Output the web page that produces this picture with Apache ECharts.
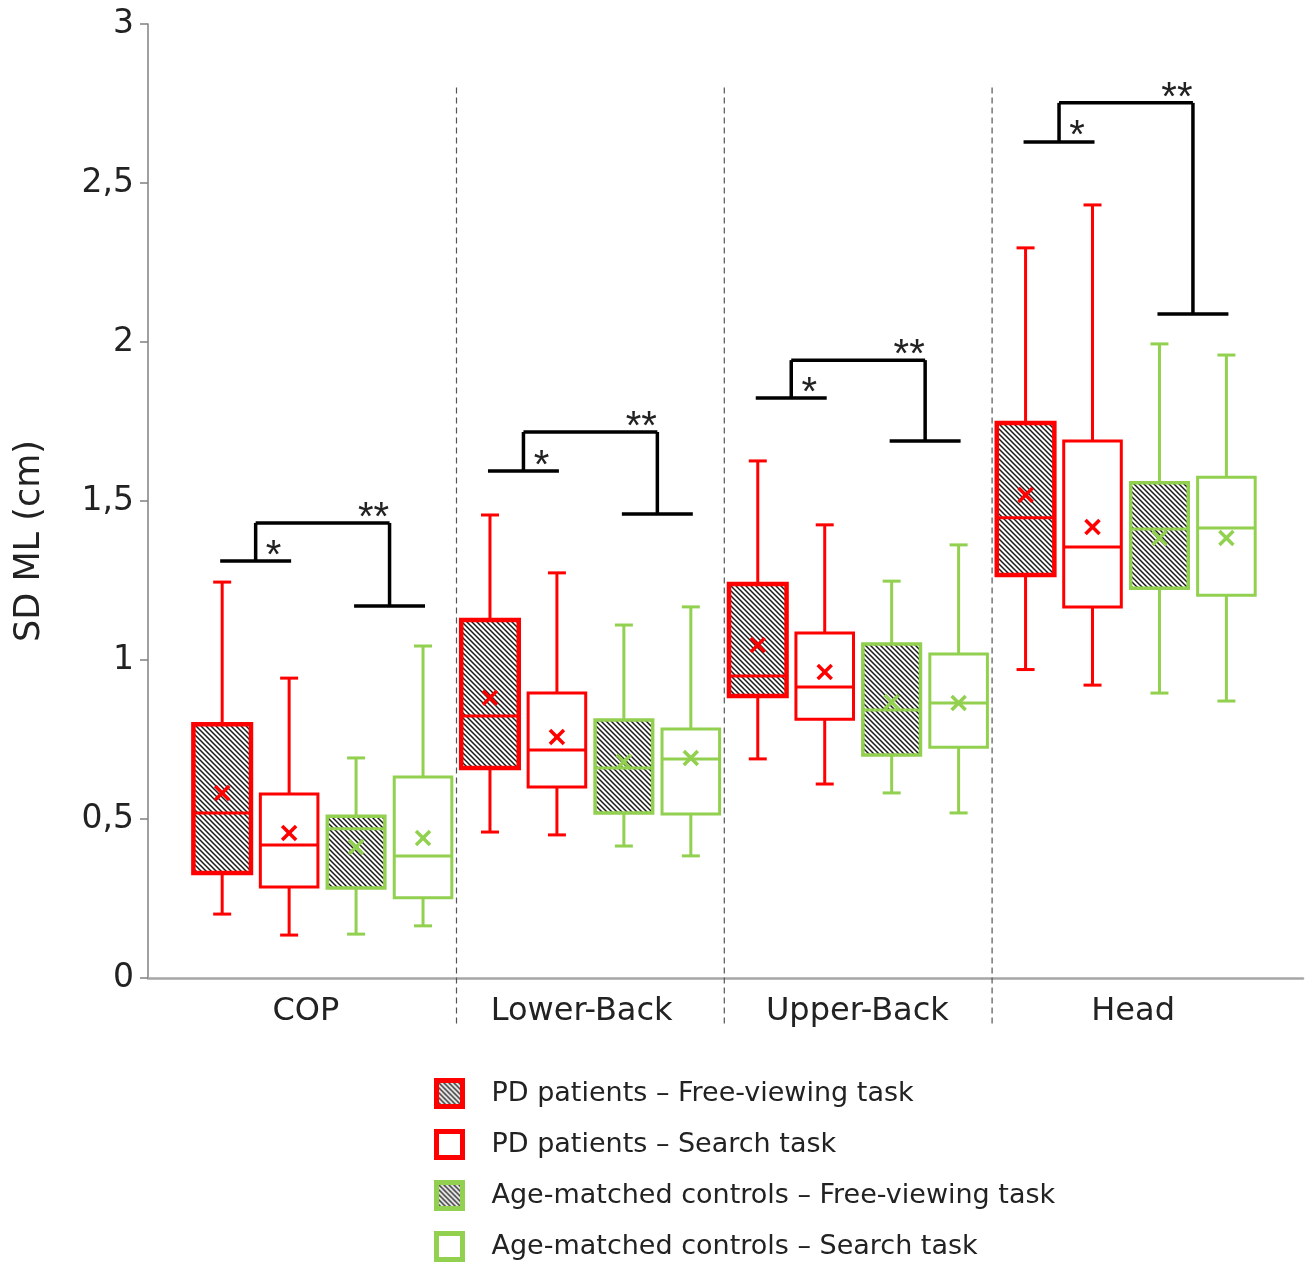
<!DOCTYPE html>
<html><head><meta charset="utf-8">
<script src="https://cdn.jsdelivr.net/npm/echarts@6/dist/echarts.min.js"></script>
<style>html,body{margin:0;padding:0;background:#fff}#c{width:1312px;height:1267px}</style>
</head><body><div id="c"></div>
<script>
// ---------------- data ----------------
const categories = ['COP', 'Lower-Back', 'Upper-Back', 'Head'];
const seriesNames = ['PD patients – Free-viewing task', 'PD patients – Search task',
  'Age-matched controls – Free-viewing task', 'Age-matched controls – Search task'];
const yTickLabels = ['0', '0,5', '1', '1,5', '2', '2,5', '3'];
// [min, Q1, median, Q3, max] per category
const pdFree = [[0.201, 0.330, 0.519, 0.798, 1.245], [0.459, 0.660, 0.824, 1.126, 1.456], [0.689, 0.887, 0.950, 1.239, 1.626], [0.970, 1.267, 1.447, 1.745, 2.296]];
const pdFreeMean = [0.582, 0.881, 1.047, 1.519];
const pdSearch = [[0.135, 0.286, 0.418, 0.579, 0.943], [0.450, 0.601, 0.717, 0.896, 1.274], [0.610, 0.814, 0.915, 1.085, 1.425], [0.921, 1.167, 1.355, 1.689, 2.431]];
const pdSearchMean = [0.456, 0.758, 0.962, 1.418];
const hcFree = [[0.138, 0.283, 0.469, 0.509, 0.692], [0.415, 0.519, 0.660, 0.811, 1.110], [0.582, 0.701, 0.843, 1.050, 1.248], [0.896, 1.226, 1.412, 1.557, 1.994]];
const hcFreeMean = [0.412, 0.680, 0.868, 1.384];
const hcSearch = [[0.164, 0.252, 0.384, 0.632, 1.044], [0.384, 0.516, 0.689, 0.783, 1.167], [0.519, 0.726, 0.865, 1.019, 1.362], [0.871, 1.204, 1.415, 1.575, 1.959]];
const hcSearchMean = [0.440, 0.692, 0.865, 1.384];
// significance brackets (y levels) per category
const bracketPairY = [1.311, 1.594, 1.824, 2.629];
const bracketTopY = [1.431, 1.717, 1.943, 2.752];
const bracketCtrlY = [1.170, 1.459, 1.689, 2.088];
const pairStars = ['*', '*', '*', '*'];
const groupStars = ['**', '**', '**', '**'];

// ---------------- style ----------------
const RED = '#FF0000', GREEN = '#92D050';
const OFFS = [-0.375, -0.125, 0.125, 0.375];
const BOX_W = 0.215;
const FONT = 'DejaVu Sans';

function makeHatch() {
  const s = 5;
  const cv = document.createElement('canvas');
  cv.width = s; cv.height = s;
  const ctx = cv.getContext('2d');
  ctx.fillStyle = '#fff'; ctx.fillRect(0, 0, s, s);
  ctx.strokeStyle = '#1a1a1a'; ctx.lineWidth = 1.5;
  ctx.beginPath();
  ctx.moveTo(-1, -1); ctx.lineTo(s + 1, s + 1);
  ctx.moveTo(-1, s - 1); ctx.lineTo(1, s + 1);
  ctx.moveTo(s - 1, -1); ctx.lineTo(s + 1, 1);
  ctx.stroke();
  return cv;
}
const hatch = { image: makeHatch(), repeat: 'repeat' };

const groups = [
  { name: seriesNames[0], stats: pdFree, means: pdFreeMean, color: RED, fill: hatch, lw: 4.5 },
  { name: seriesNames[1], stats: pdSearch, means: pdSearchMean, color: RED, fill: '#fff', lw: 3 },
  { name: seriesNames[2], stats: hcFree, means: hcFreeMean, color: GREEN, fill: hatch, lw: 3.5 },
  { name: seriesNames[3], stats: hcSearch, means: hcSearchMean, color: GREEN, fill: '#fff', lw: 3 }
];

function renderBox(g, off) {
  return function (params, api) {
    const x = api.value(0) + off;
    const p = v => api.coord([x, v]);
    const pm = p(api.value(1));
    const xc = pm[0], yMin = pm[1];
    const yQ1 = p(api.value(2))[1], yMed = p(api.value(3))[1], yQ3 = p(api.value(4))[1];
    const yMax = p(api.value(5))[1], yMean = p(api.value(6))[1];
    const xl = api.coord([x - BOX_W / 2, 0])[0], xr = api.coord([x + BOX_W / 2, 0])[0];
    const cap = 9, m = 7;
    const ls = { stroke: g.color, lineWidth: 3 };
    return {
      type: 'group', children: [
        { type: 'line', shape: { x1: xc, y1: yQ3, x2: xc, y2: yMax }, style: ls },
        { type: 'line', shape: { x1: xc - cap, y1: yMax, x2: xc + cap, y2: yMax }, style: ls },
        { type: 'line', shape: { x1: xc, y1: yQ1, x2: xc, y2: yMin }, style: ls },
        { type: 'line', shape: { x1: xc - cap, y1: yMin, x2: xc + cap, y2: yMin }, style: ls },
        { type: 'rect', shape: { x: xl, y: yQ3, width: xr - xl, height: yQ1 - yQ3 }, style: { fill: g.fill, stroke: g.color, lineWidth: g.lw } },
        { type: 'line', shape: { x1: xl, y1: yMed, x2: xr, y2: yMed }, style: { stroke: g.color, lineWidth: 3 } },
        { type: 'line', shape: { x1: xc - m, y1: yMean - m, x2: xc + m, y2: yMean + m }, style: { stroke: g.color, lineWidth: 3.5 } },
        { type: 'line', shape: { x1: xc - m, y1: yMean + m, x2: xc + m, y2: yMean - m }, style: { stroke: g.color, lineWidth: 3.5 } }
      ]
    };
  };
}

const boxSeries = groups.map((g, si) => ({
  type: 'custom', name: g.name, xAxisIndex: 0, yAxisIndex: 0,
  itemStyle: { color: g.color, borderColor: g.color },
  encode: { x: 0, y: [1, 2, 3, 4, 5, 6] },
  renderItem: renderBox(g, OFFS[si]),
  data: g.stats.map((s, i) => [i].concat(s, [g.means[i]]))
}));

const bracketSeries = {
  type: 'custom', xAxisIndex: 0, yAxisIndex: 0, silent: true,
  encode: { x: 0, y: [1, 2, 3] },
  renderItem: function (params, api) {
    const c = api.value(0), i = params.dataIndex;
    const py = api.coord([c, api.value(1)])[1];
    const ty = api.coord([c, api.value(2)])[1];
    const cy = api.coord([c, api.value(3)])[1];
    const X = o => api.coord([c + o, 0])[0];
    const a1 = X(OFFS[0]), a2 = X(OFFS[1]), b1 = X(OFFS[2]), b2 = X(OFFS[3]);
    const lm = (a1 + a2) / 2, rm = (b1 + b2) / 2;
    const st = { stroke: '#000', lineWidth: 3.5 };
    return {
      type: 'group', children: [
        { type: 'line', shape: { x1: a1 - 2, y1: py, x2: a2 + 2, y2: py }, style: st },
        { type: 'line', shape: { x1: lm, y1: py, x2: lm, y2: ty }, style: st },
        { type: 'line', shape: { x1: lm, y1: ty, x2: rm, y2: ty }, style: st },
        { type: 'line', shape: { x1: rm, y1: ty, x2: rm, y2: cy }, style: st },
        { type: 'line', shape: { x1: b1 - 2, y1: cy, x2: b2 + 2, y2: cy }, style: st },
        { type: 'text', style: { text: pairStars[i], x: lm + 18, y: (py + ty) / 2 + 15, fill: '#222', font: '40px "Liberation Sans"', align: 'center', verticalAlign: 'middle' } },
        { type: 'text', style: { text: groupStars[i], x: rm - 16, y: ty - 4, fill: '#222', font: '40px "Liberation Sans"', align: 'center', verticalAlign: 'middle' } }
      ]
    };
  },
  data: categories.map((c, i) => [i, bracketPairY[i], bracketTopY[i], bracketCtrlY[i]])
};

const sepSeries = {
  type: 'custom', xAxisIndex: 0, yAxisIndex: 0, silent: true,
  encode: { x: 0 },
  renderItem: function (params, api) {
    const x = api.value(0);
    const p1 = api.coord([x, 2.80]), p2 = api.coord([x, -0.148]);
    return { type: 'line', shape: { x1: p1[0], y1: p1[1], x2: p2[0], y2: p2[1] }, style: { stroke: '#555', lineWidth: 1.2, lineDash: [6, 4] } };
  },
  data: categories.slice(1).map((c, i) => [i + 0.5])
};

const chart = echarts.init(document.getElementById('c'), null, { renderer: 'canvas' });
chart.setOption({
  animation: false,
  backgroundColor: '#fff',
  grid: [
    { left: 148, right: 9, top: 24, bottom: 289, containLabel: false },
    { left: 168, right: 41, top: 24, bottom: 289, containLabel: false }
  ],
  xAxis: [
    { type: 'value', gridIndex: 0, min: -0.652, max: 3.661,
      axisLine: { show: true, onZero: false, lineStyle: { color: '#a6a6a6', width: 2.5 } },
      axisTick: { show: false }, axisLabel: { show: false }, splitLine: { show: false } },
    { type: 'category', gridIndex: 1, data: categories, boundaryGap: true,
      axisLine: { show: false }, axisTick: { show: false }, splitLine: { show: false },
      axisLabel: { margin: 18, color: '#222', fontFamily: FONT, fontSize: 32 } }
  ],
  yAxis: [
    { type: 'value', gridIndex: 0, min: 0, max: 3, interval: 0.5,
      name: 'SD ML (cm)', nameLocation: 'middle', nameGap: 101,
      nameTextStyle: { color: '#222', fontFamily: FONT, fontSize: 35, padding: [0, 80, 0, 0] },
      axisLine: { show: true, onZero: false, lineStyle: { color: '#808080', width: 1.5 } },
      axisTick: { show: true, length: 8, lineStyle: { color: '#808080', width: 1.5 } },
      splitLine: { show: false },
      axisLabel: { margin: 14, color: '#222', fontFamily: FONT, fontSize: 33,
        formatter: v => yTickLabels[Math.round(v / 0.5)] } },
    { type: 'value', gridIndex: 1, show: false, min: 0, max: 3 }
  ],
  legend: {
    orient: 'vertical', left: 434, top: 1078, padding: 0,
    itemWidth: 26, itemHeight: 26, itemGap: 20, icon: 'rect', selectedMode: false,
    textStyle: { fontFamily: FONT, fontSize: 27, color: '#222', padding: [0, 0, 0, 24], lineHeight: 26 },
    data: groups.map(g => ({ name: g.name, itemStyle: { color: g.fill, borderColor: g.color, borderWidth: 5 } }))
  },
  series: [sepSeries].concat(boxSeries, [bracketSeries])
});
</script>
</body></html>
